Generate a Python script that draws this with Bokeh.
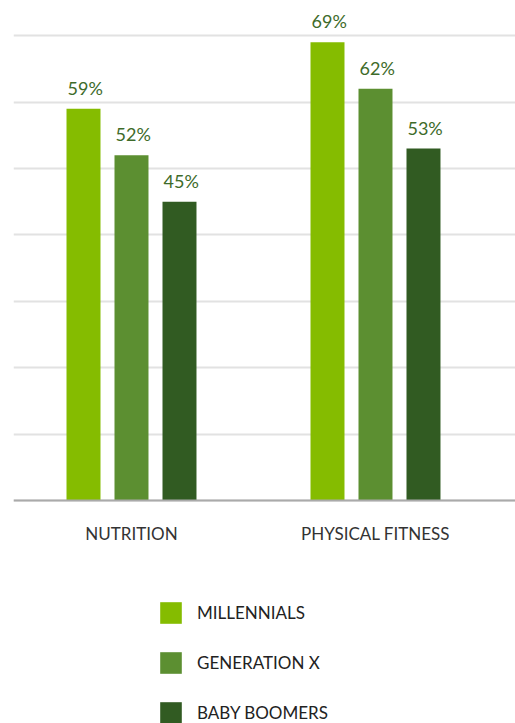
from bokeh.plotting import figure
from bokeh.models import ColumnDataSource, Legend, LegendItem, FixedTicker, Range1d
from bokeh.core.properties import value
from bokeh.embed import file_html
from bokeh.resources import INLINE

categories = ["NUTRITION", "PHYSICAL FITNESS"]
series = ["MILLENNIALS", "GENERATION X", "BABY BOOMERS"]
millennials = [59, 69]
generation_x = [52, 62]
baby_boomers = [45, 53]
values_by_series = [millennials, generation_x, baby_boomers]
colors = ["#85bc00", "#5c8f31", "#315b22"]
y_ticks = [0, 10, 20, 30, 40, 50, 60, 70]

FONT = "Lato"
offset = 0.1967
bar_w = 0.1393
per_px = 75.3 / 500.0

p = figure(frame_width=502, frame_height=723, output_backend="svg", toolbar_location=None,
           x_range=Range1d(-0.4836, 1.5738), y_range=Range1d(-223 * per_px, 75.3),
           min_border_left=13, min_border_right=0, min_border_top=0,
           min_border_bottom=0)
p.outline_line_color = None
p.background_fill_color = "white"

renderers = []
for j, (name, vals, col) in enumerate(zip(series, values_by_series, colors)):
    xs = [i + (j - 1) * offset for i in range(len(categories))]
    src = ColumnDataSource(dict(x=xs, top=vals,
                                lab=[f"{v}%" for v in vals],
                                xl=[x - bar_w / 2 for x in xs]))
    r = p.vbar(x="x", top="top", width=bar_w, bottom=0, source=src,
               fill_color=col, line_color=None)
    renderers.append((name, r))
    p.text(x="xl", y="top", text="lab", source=src, text_font=value(FONT),
           text_font_size="18px", text_color="#3e6b2a", text_align="left",
           text_baseline="alphabetic", x_offset=1, y_offset=-21)

p.yaxis.visible = False
p.ygrid.ticker = FixedTicker(ticks=y_ticks)
p.ygrid.grid_line_color = "#e2e2e2"
p.ygrid.grid_line_width = 2
p.xgrid.visible = False

p.xaxis.fixed_location = 0
p.xaxis.ticker = FixedTicker(ticks=list(range(len(categories))))
p.xaxis.major_label_overrides = {i: c for i, c in enumerate(categories)}
p.xaxis.major_label_text_font = FONT
p.xaxis.major_label_text_font_size = "17px"
p.xaxis.major_label_text_color = "#333333"
p.xaxis.major_label_standoff = 16
p.xaxis.major_tick_line_color = None
p.xaxis.minor_tick_line_color = None
p.xaxis.axis_line_color = "#aaaaaa"
p.xaxis.axis_line_width = 2

legend = Legend(items=[LegendItem(label=n, renderers=[r]) for n, r in renderers],
                orientation="vertical", location=(144, -3),
                glyph_width=27, glyph_height=27, spacing=23,
                label_text_font=FONT, label_text_font_size="17px",
                label_text_color="#222222", label_standoff=13,
                border_line_color=None, background_fill_alpha=0,
                margin=0, padding=0)
p.add_layout(legend, "center")

open("out.html", "w").write(file_html(p, INLINE))
